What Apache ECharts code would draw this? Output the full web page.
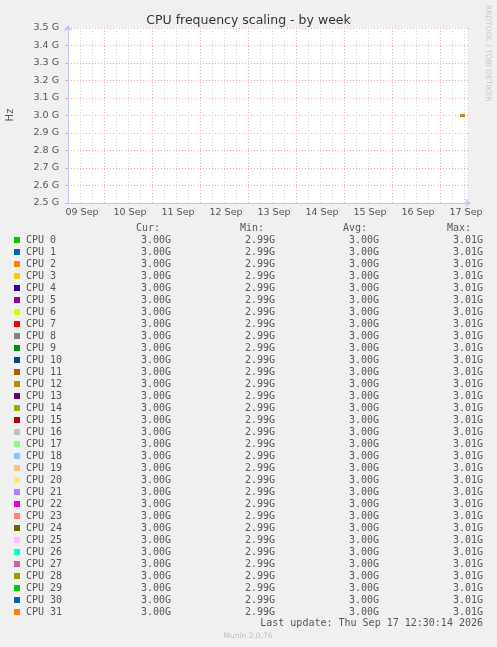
<!DOCTYPE html>
<html>
<head>
<meta charset="utf-8">
<script src="https://cdn.jsdelivr.net/npm/echarts@6/dist/echarts.min.js"></script>
<style>
html,body{margin:0;padding:0;background:#F0F0F0;}
#chart{width:497px;height:647px;}
</style>
</head>
<body>
<div id="chart"></div>
<script>
// ---- data ----
// x values: hours since 09 Sep 00:00
const dayLabels = ['09 Sep','10 Sep','11 Sep','12 Sep','13 Sep','14 Sep','15 Sep','16 Sep','17 Sep'];
const midnightHours = [24, 48, 72, 96, 120, 144, 168, 192];
const sampleHours = [202, 202.5, 203, 203.5, 204, 204.5];
const freqGHz = [3.00, 3.00, 3.00, 3.00, 3.00, 3.00];
const cpuNames = Array.from({length: 32}, (_, i) => 'CPU ' + i);
const cpuColors = ['#00CC00','#0066B3','#FF8000','#FFCC00','#330099','#990099','#CCFF00','#FF0000',
  '#808080','#008F00','#00487D','#B35A00','#B38F00','#6B006B','#8FB300','#B30000',
  '#BEBEBE','#80FF80','#80C9FF','#FFC080','#FFE680','#AA80FF','#EE00CC','#FF8080',
  '#666600','#FFBFFF','#00FFCC','#CC6699','#999900','#00CC00','#0066B3','#FF8000'];
// legend statistics as printed (GHz), identical for every CPU
const curGHz = cpuNames.map(() => 3.00);
const minGHz = cpuNames.map(() => 2.99);
const avgGHz = cpuNames.map(() => 3.00);
const maxGHz = cpuNames.map(() => 3.01);
const yTicksG = [2.5, 2.6, 2.7, 2.8, 2.9, 3.0, 3.1, 3.2, 3.3, 3.4, 3.5];
const lastUpdate = 'Last update: Thu Sep 17 12:30:14 2026';
const footer = 'Munin 2.0.76';

// ---- chart ----
const chart = echarts.init(document.getElementById('chart'), null, {renderer: 'canvas'});
const PINK = '#EFA8A8';
const GREY = '#D2D2D2';
const AXIS = '#C4C4EC';
const TXT = '#555555';
const MONO = '"DejaVu Sans Mono", monospace';
const SANS = '"DejaVu Sans", sans-serif';

const series = cpuNames.map((name, i) => ({
  name: name,
  type: 'line',
  z: 10 + i,
  data: sampleHours.map((h, k) => [h, freqGHz[k] * 1e9]),
  symbol: 'none',
  lineStyle: {width: 2.5, color: cpuColors[i], opacity: 1},
  itemStyle: {color: cpuColors[i]},
  emphasis: {disabled: true},
  animation: false,
  silent: true
}));
// red midnight grid lines
series.unshift({
  type: 'line', data: [], silent: true, animation: false, z: 3,
  markLine: {
    symbol: 'none', silent: true, animation: false,
    label: {show: false},
    lineStyle: {color: PINK, type: [1, 2], width: 1},
    data: midnightHours.map(h => ({xAxis: h}))
  }
});

function fmtG(v) { return v.toFixed(2) + 'G'; }
const graphics = [];
const colX = [171, 275, 379, 483];
const headX = [136, 240, 343, 447];
const heads = ['Cur:', 'Min:', 'Avg:', 'Max:'];
heads.forEach((t, k) => graphics.push({type: 'text', x: headX[k], y: 228,
  style: {text: t, font: '10px ' + MONO, fill: TXT, textAlign: 'left', textVerticalAlign: 'middle'}}));
cpuNames.forEach((name, i) => {
  const y = 240 + 12 * i;
  graphics.push({type: 'rect', shape: {x: 14, y: y - 3, width: 6, height: 6}, style: {fill: cpuColors[i]}});
  graphics.push({type: 'text', x: 26, y: y,
    style: {text: name, font: '10px ' + MONO, fill: TXT, textAlign: 'left', textVerticalAlign: 'middle'}});
  [curGHz[i], minGHz[i], avgGHz[i], maxGHz[i]].forEach((v, k) => graphics.push({type: 'text', x: colX[k], y: y,
    style: {text: fmtG(v), font: '10px ' + MONO, fill: TXT, textAlign: 'right', textVerticalAlign: 'middle'}}));
});
graphics.push({type: 'text', x: 483, y: 623,
  style: {text: lastUpdate, font: '10px ' + MONO, fill: TXT, textAlign: 'right', textVerticalAlign: 'middle'}});
graphics.push({type: 'text', x: 248, y: 636,
  style: {text: footer, font: '7.5px ' + SANS, fill: '#C0C0C0', textAlign: 'center', textVerticalAlign: 'middle'}});
graphics.push({type: 'text', x: 488, y: 5, rotation: -Math.PI / 2,
  style: {text: 'RRDTOOL / TOBI OETIKER', font: '7.5px ' + SANS, fill: '#C8C8C8', textAlign: 'left', textVerticalAlign: 'middle'}});
graphics.push({type: 'text', x: 10, y: 115, rotation: Math.PI / 2,
  style: {text: 'Hz', font: '10px ' + SANS, fill: TXT, textAlign: 'center', textVerticalAlign: 'middle'}});

chart.setOption({
  backgroundColor: '#F0F0F0',
  animation: false,
  title: {
    text: 'CPU frequency scaling - by week',
    left: 'center', top: 9,
    textStyle: {fontFamily: SANS, fontSize: 12.5, fontWeight: 'normal', color: '#333333'}
  },
  grid: {left: 68, top: 28, width: 400, height: 175, show: true, backgroundColor: '#FFFFFF', borderWidth: 0,
    containLabel: false, outerBoundsMode: 'none'},
  xAxis: {
    type: 'value', min: 6, max: 206, interval: 6,
    axisLine: {show: true, lineStyle: {color: AXIS, width: 1}, symbol: ['none', 'arrow'], symbolSize: [6, 6], symbolOffset: [0, 3]},
    axisTick: {show: false},
    splitLine: {show: true, lineStyle: {color: GREY, type: [1, 2], width: 1}},
    axisLabel: {
      show: true, margin: 5, color: TXT, fontFamily: SANS, fontSize: 9.5, padding: [0, 0, 0, 4],
      showMinLabel: true, showMaxLabel: true,
      formatter: v => (Math.round(v) % 24 === 12) ? dayLabels[Math.floor(v / 24)] : ''
    }
  },
  yAxis: {
    type: 'value', min: yTicksG[0] * 1e9, max: yTicksG[yTicksG.length - 1] * 1e9, interval: 1e8,
    axisLine: {show: true, lineStyle: {color: AXIS, width: 1}, symbol: ['none', 'arrow'], symbolSize: [6, 6], symbolOffset: [0, 3]},
    axisTick: {show: true, length: 3, lineStyle: {color: PINK}},
    splitLine: {show: true, lineStyle: {color: PINK, type: [1, 2], width: 1}},
    axisLabel: {margin: 9, color: TXT, fontFamily: SANS, fontSize: 9.5,
      formatter: v => (v / 1e9).toFixed(1) + ' G'}
  },
  graphic: {elements: graphics},
  series: series
});
</script>
</body>
</html>
